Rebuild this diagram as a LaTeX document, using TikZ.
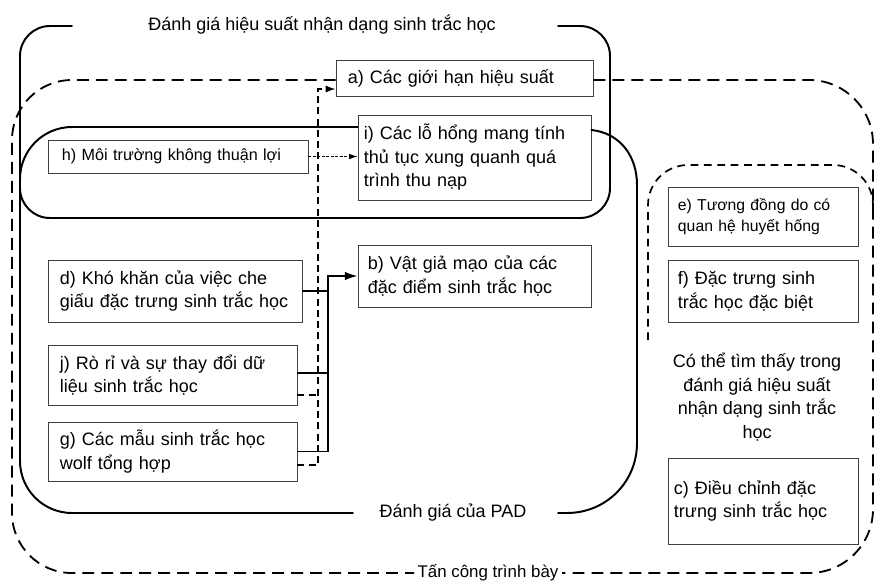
\documentclass[tikz,border=0pt]{standalone}
\usepackage{fontspec}
\setmainfont{Liberation Sans}
\usetikzlibrary{arrows.meta,calc}
\tikzset{
  item/.style={
    rectangle, draw=black!75, line width=0.6pt,
    font=\fontsize{12.8}{16.7}\selectfont,
    inner xsep=0.3cm, inner ysep=2pt, align=left
  },
  region/.style={line width=1.4pt, line cap=round},
  attack/.style={line width=1.3pt, dash pattern=on 8.5pt off 5pt},
  found/.style={line width=1.2pt, dash pattern=on 5.5pt off 4pt},
  caption/.style={font=\fontsize{12.8}{16.7}\selectfont, inner sep=0pt, align=center},
  feed/.style={line width=1pt, -{Latex[length=9pt,width=6pt]}},
  feeddash/.style={line width=1pt, dash pattern=on 5pt off 3pt,
    -{Latex[length=7pt,width=5pt]}},
  hint/.style={line width=0.6pt, dash pattern=on 2pt off 1.2pt,
    -{Latex[length=6pt,width=4pt]}},
}

\begin{document}
\begin{tikzpicture}[x=0.025cm, y=-0.025cm]
  \useasboundingbox (0,0) rectangle (880,585);

  % ── Bus positions ────────────────────────────────────────────────────────────
  \def\busA{318}   % dashed, into a)
  \def\busB{328}   % solid, into b)

  % ── Items ────────────────────────────────────────────────────────────────────
  \node[item, text width=5.825cm, minimum height=0.9cm] (a) at (464.5,78)
    {a) Các giới hạn hiệu suất};
  \node[item, inner xsep=0.15cm, text width=5.525cm, minimum height=2.125cm] (i)
    at (474.5,157.5)
    {i) Các lỗ hổng mang tính\\thủ tục xung quanh quá\\trình thu nạp};
  \node[item, inner xsep=0.35cm, text width=5.8cm, minimum height=0.825cm,
        font=\fontsize{11.5}{14}\selectfont] (h) at (178,156.5)
    {h) Môi trường không thuận lợi};
  \node[item, text width=5.75cm, minimum height=1.55cm] (d) at (175,291)
    {d) Khó khăn của việc che\\giấu đặc trưng sinh trắc học};
  \node[item, inner xsep=0.25cm, text width=5.325cm, minimum height=1.55cm] (b)
    at (474.5,276)
    {b) Vật giả mạo của các\\đặc điểm sinh trắc học};
  \node[item, text width=5.625cm, minimum height=1.5cm] (j) at (172.5,375)
    {j) Rò rỉ và sự thay đổi dữ\\liệu sinh trắc học};
  \node[item, text width=5.625cm, minimum height=1.475cm] (g) at (172.5,451.5)
    {g) Các mẫu sinh trắc học\\wolf tổng hợp};

  % right column
  \node[item, inner xsep=0.25cm, text width=4.25cm, minimum height=1.475cm,
        font=\fontsize{11.2}{15.5}\selectfont] (e)
    at (763,216.5) {e) Tương đồng do có\\quan hệ huyết hống};
  \node[item, inner xsep=0.25cm, text width=4.25cm, minimum height=1.55cm] (f)
    at (763,291) {f) Đặc trưng sinh\\trắc học đặc biệt};
  \node[item, inner xsep=0.15cm, text width=4.45cm, minimum height=2.15cm] (c)
    at (763,501) {c) Điều chỉnh đặc\\trưng sinh trắc học};

  % ── Regions ──────────────────────────────────────────────────────────────────
  % performance evaluation
  \draw[region, rounded corners=0.75cm]
    (72,26) -- (20,26) -- (20,218) -- (610,218) -- (610,26) -- (558,26);
  % PAD evaluation
  \draw[region, rounded corners=1.3cm]
    (i.west |- 0,127) -- (20,127) -- (20,513) -- (353,513);
  \draw[region] (558,513) -- (567,513)
    .. controls (606,513) and (637,482) .. (637,443) -- (637,185)
    .. controls (637,156) and (620,133) .. (i.east |- 0,130);
  % presentation attacks
  \draw[attack, rounded corners=1.5cm]
    (a.west |- 0,80) -- (12,80) -- (12,573) -- (414,573);
  \draw[attack, rounded corners=1.6cm]
    (a.east |- 0,80) -- (873,80) -- (873,573) -- (562,573);
  % found in performance evaluation
  \draw[found, rounded corners=1cm]
    (648,340) -- (648,165) -- (873,165) -- (873,215);

  % ── Region labels ────────────────────────────────────────────────────────────
  \node[caption] (tA) at (322,25) {Đánh giá hiệu suất nhận dạng sinh trắc học};
  \node[caption] (tB) at (453,513) {Đánh giá của PAD};
  \node[caption, font=\fontsize{12}{15}\selectfont] (tC) at (488,573)
    {Tấn công trình bày};
  \node[caption] (tD) at (757,397)
    {Có thể tìm thấy trong\\đánh giá hiệu suất\\nhận dạng sinh trắc\\học};

  % ── Connectors ───────────────────────────────────────────────────────────────
  \coordinate (ta) at (\busA,89);
  \coordinate (tb) at (\busB,276);

  \draw[hint] (h.east) -- (h.east -| i.west);

  \draw[feeddash] ([yshift=-0.34cm]g.east) -| (ta) -- (ta -| a.west);
  \draw[line width=1pt, dash pattern=on 5pt off 3pt]
    ([yshift=-0.5cm]j.east) -- ([yshift=-0.5cm]j.east -| ta);

  \draw[line width=1pt] (d.east) -- (d.east -| tb);
  \draw[line width=1pt] ([yshift=0.05cm]j.east) -- ([yshift=0.05cm]j.east -| tb);
  \draw[feed] (g.east) -| (tb) -- (b.west);

\end{tikzpicture}
\end{document}
